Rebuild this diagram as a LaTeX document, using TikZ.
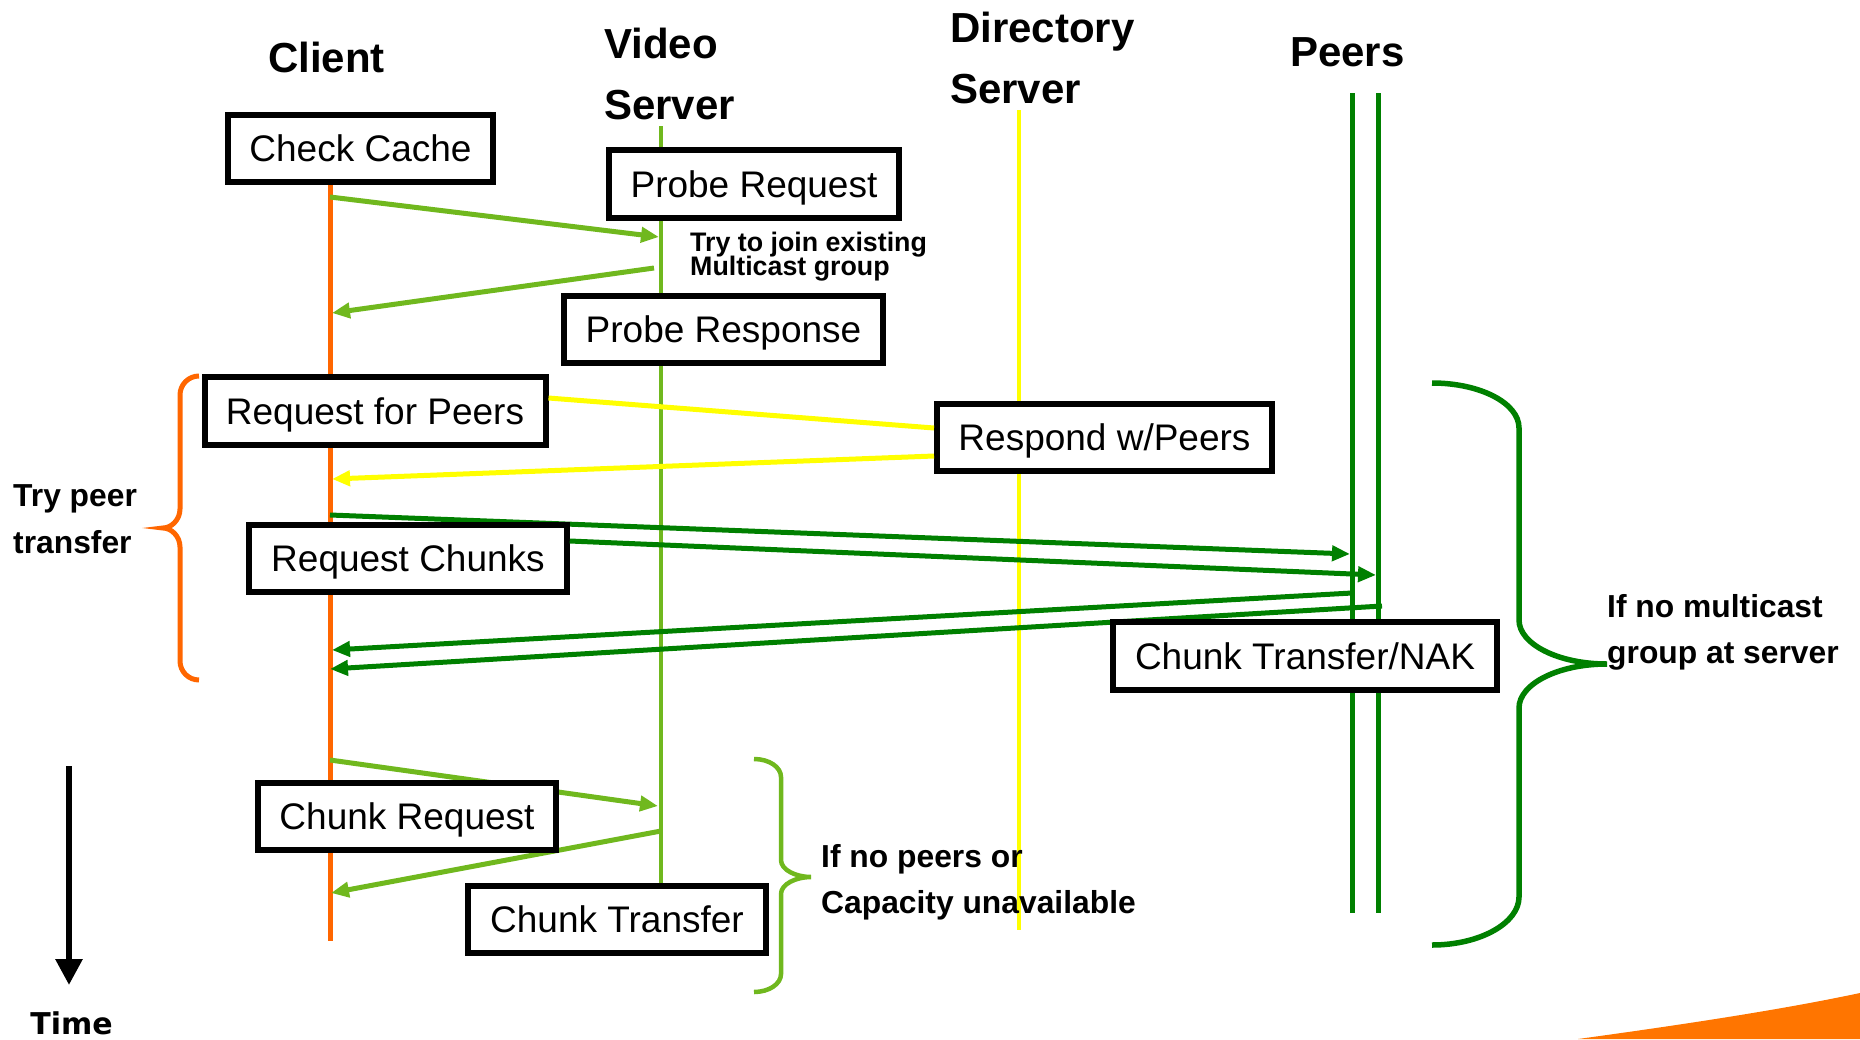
\documentclass[tikz,border=0pt]{standalone}
\usepackage{fontspec}
\setmainfont{Liberation Sans}
\newfontfamily\timefont{DejaVu Sans}
\usetikzlibrary{arrows.meta}

\definecolor{clientorange}{RGB}{255,102,0}
\definecolor{swooshorange}{RGB}{255,117,0}
\definecolor{vsgreen}{RGB}{112,184,30}
\definecolor{peergreen}{RGB}{0,128,0}
\definecolor{diryellow}{RGB}{255,255,0}

\begin{document}
\begin{tikzpicture}[x=1pt, y=-1pt,
  stepbox/.style={draw=black, line width=6pt, fill=white, inner sep=0pt,
    font=\fontsize{37}{44}\selectfont, text height=26.5pt, text depth=0pt,
    minimum height=67.5pt},
  head/.style={anchor=base west, inner sep=0pt, font=\fontsize{42}{50}\selectfont\bfseries},
  note/.style={anchor=base west, inner sep=0pt, font=\fontsize{31.8}{38}\selectfont\bfseries},
  smallnote/.style={anchor=base west, inner sep=0pt, font=\fontsize{26.8}{28}\selectfont\bfseries},
  tip/.style={-{Triangle[length=18pt,width=15pt]}},
  vsmsg/.style={draw=vsgreen, line width=5pt},
  dirmsg/.style={draw=diryellow, line width=5pt},
  peermsg/.style={draw=peergreen, line width=5pt},
]
\useasboundingbox (0,0) rectangle (1860,1039);

% decorative corner swoosh
\fill[swooshorange] (1578,1039) .. controls (1680,1025) and (1780,1010) .. (1860,993)
  -- (1860,1039) -- cycle;

% column headings
\node[head] (hclient) at (268,72) {Client};
\node[head] (hvideo) at (604,58) {Video};
\node[head] (hvserver) at (604,119) {Server};
\node[head] (hdir) at (950,42) {Directory};
\node[head] (hdserver) at (950,103) {Server};
\node[head] (hpeers) at (1290,66) {Peers};

% lifeline end points
\coordinate (clientTop) at (330,185);
\coordinate (clientEnd) at (330,941);
\coordinate (vsTop) at (661,126);
\coordinate (vsEnd) at (661,884);
\coordinate (dirTop) at (1019,110);
\coordinate (dirEnd) at (1019,930);
\coordinate (peerATop) at (1352.5,93);
\coordinate (peerAEnd) at (1352.5,913);
\coordinate (peerBTop) at (1378.5,93);
\coordinate (peerBEnd) at (1378.5,913);

% lifelines
\draw[clientorange, line width=5pt] (clientTop) -- (clientEnd);
\draw[vsgreen, line width=4.5pt] (vsTop) -- (vsEnd);
\draw[diryellow, line width=4.5pt] (dirTop) -- (dirEnd);
\draw[peergreen, line width=5pt] (peerATop) -- (peerAEnd);
\draw[peergreen, line width=5pt] (peerBTop) -- (peerBEnd);

% message end points on the lifelines
\coordinate (probeOut) at (330,197);
\coordinate (probeIn) at (659,237);
\coordinate (probeBack) at (654,268);
\coordinate (probeAns) at (332,313);
\coordinate (peersAns) at (332,479);
\coordinate (chunkOutA) at (330,515);
\coordinate (chunkInA) at (1350,554);
\coordinate (chunkInB) at (1376,575);
\coordinate (xferOutA) at (1352,593);
\coordinate (xferOutB) at (1382,606);
\coordinate (xferInA) at (332,650);
\coordinate (xferInB) at (330,669);
\coordinate (reqOut) at (330,760);
\coordinate (reqIn) at (658,806);
\coordinate (reqBack) at (661,831);
\coordinate (reqAns) at (331,893);

% probe exchange with the video server
\draw[vsmsg, tip] (probeOut) -- (probeIn);
\draw[vsmsg, tip] (probeBack) -- (probeAns);

% fallback chunk exchange with the video server
\draw[vsmsg, tip] (reqOut) -- (reqIn);
\draw[vsmsg, tip] (reqBack) -- (reqAns);

% chunk exchange with the peers
\draw[peermsg, tip] (chunkOutA) -- (chunkInA);
\draw[peermsg, tip] (xferOutA) -- (xferInA);
\draw[peermsg, tip] (xferOutB) -- (xferInB);

% steps
\node[stepbox, minimum width=265pt] (cc) at (360.5,148.5) {Check Cache};
\node[stepbox, minimum width=290pt] (preq) at (754,184) {Probe Request};
\node[stepbox, minimum width=319pt] (presp) at (723.5,329.5) {Probe Response};
\node[stepbox, minimum width=341pt] (rfp) at (375,411) {Request for Peers};
\node[stepbox, minimum width=335pt] (rwp) at (1104.5,437.5) {Respond w/Peers};
\node[stepbox, minimum width=317.5pt] (rc) at (408,558.7) {Request Chunks};
\node[stepbox, minimum width=384pt] (ctn) at (1305,656) {Chunk Transfer/NAK};
\node[stepbox, minimum width=297.5pt] (creq) at (407,816.5) {Chunk Request};
\node[stepbox, minimum width=298pt] (ctr) at (617,919.5) {Chunk Transfer};

% directory server exchange
\draw[dirmsg] ([yshift=13pt]rfp.east) -- ([yshift=9.5pt]rwp.west);
\draw[dirmsg, tip] ([yshift=-18.5pt]rwp.west) -- (peersAns);

% second chunk request leaves the Request Chunks box
\draw[peermsg, tip] ([yshift=17.7pt]rc.east) -- (chunkInB);

% side notes
\node[smallnote] (join1) at (690,251.7) {Try to join existing};
\node[smallnote] (join2) at (690,275) {Multicast group};
\node[note] (try1) at (13,506.7) {Try peer};
\node[note] (try2) at (13,553) {transfer};
\node[note] (mc1) at (1607,617.6) {If no multicast};
\node[note] (mc2) at (1607,663) {group at server};
\node[note] (np1) at (821,867.7) {If no peers or};
\node[note] (np2) at (821,913.3) {Capacity unavailable};

% braces
\draw[clientorange, line width=5pt]
  (199,376) .. controls (188.5,376) and (180,384.5) .. (180,395)
  -- (180,509) .. controls (180,519.5) and (171.5,528) .. (163,528)
  .. controls (171.5,528) and (180,536.5) .. (180,547)
  -- (180,661) .. controls (180,671.5) and (188.5,680) .. (199,680);
\draw[peergreen, line width=5.5pt]
  (1432,383) .. controls (1480,383) and (1519,403) .. (1519,428)
  -- (1519,620) .. controls (1519,644) and (1558,664) .. (1607,664)
  .. controls (1558,664) and (1519,684) .. (1519,708)
  -- (1519,897) .. controls (1519,923) and (1480,945) .. (1432,945);
\draw[vsgreen, line width=4.5pt]
  (754,759) .. controls (769,759) and (781,767) .. (781,777)
  -- (781,860) .. controls (781,870) and (796,877) .. (811,877)
  .. controls (796,877) and (781,884) .. (781,894)
  -- (781,974) .. controls (781,984) and (769,992) .. (754,992);

% time axis
\coordinate (timeTop) at (69,766);
\coordinate (timeEnd) at (69,985);
\draw[black, line width=6pt, -{Triangle[length=26pt,width=26pt]}] (timeTop) -- (timeEnd);
\node[anchor=base, inner sep=0pt, font=\timefont\bfseries\fontsize{30}{36}\selectfont] (time) at (71.5,1034) {Time};
\end{tikzpicture}
\end{document}
